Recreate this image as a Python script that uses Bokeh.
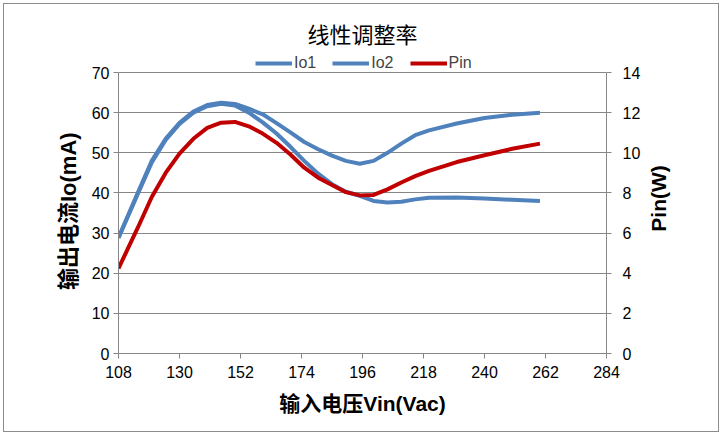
import math
from bokeh.plotting import figure
from bokeh.layouts import row
from bokeh.models import (Range1d, LinearAxis, FixedTicker, Legend, LegendItem)
from bokeh.core.properties import value
from bokeh.embed import file_html
from bokeh.resources import INLINE

vin = [108, 115, 120, 125, 130, 135, 140, 145, 150, 155, 160, 165, 170, 175,
       180, 185, 190, 195, 200, 205, 210, 215, 220, 230, 240, 250, 260]
io1 = [28.9, 40.1, 48.0, 53.5, 57.5, 60.3, 61.9, 62.5, 62.2, 61.0, 59.6, 57.4,
       55.1, 52.7, 50.9, 49.3, 48.0, 47.3, 48.0, 50.0, 52.3, 54.4, 55.6, 57.3,
       58.7, 59.5, 60.0]
io2 = [28.8, 39.8, 47.6, 53.2, 57.2, 60.0, 61.6, 62.2, 61.8, 60.0, 57.6, 54.8,
       51.5, 48.0, 44.8, 42.2, 40.3, 39.3, 38.0, 37.6, 37.8, 38.4, 38.8, 38.9,
       38.6, 38.3, 38.0]
pin = [4.24, 6.28, 7.8, 9.0, 9.96, 10.7, 11.24, 11.5, 11.54, 11.32, 10.96, 10.5,
       9.92, 9.26, 8.76, 8.4, 8.04, 7.88, 7.9, 8.18, 8.52, 8.84, 9.1, 9.54, 9.88,
       10.2, 10.46]

x_ticks = [108, 130, 152, 174, 196, 218, 240, 262, 284]
y_ticks = [0, 10, 20, 30, 40, 50, 60, 70]
y2_ticks = [0, 2, 4, 6, 8, 10, 12, 14]

title_text = "线性调整率"
x_label = "输入电压Vin(Vac)"
y_label = "输出电流Io(mA)"
y2_label = "Pin(W)"

BLUE = "#4F81BD"
RED = "#C00000"
GRAY = "#868686"
TICK_FONT = "Liberation Sans"
LABEL_FONT = "Liberation Sans, Noto Sans CJK SC"
CJK = "Noto Sans CJK SC"

H = 427

# left strip holding the left axis title, read bottom-to-top
p0 = figure(width=80, height=H, output_backend="svg", toolbar_location=None,
            x_range=Range1d(0, 80), y_range=Range1d(0, H),
            x_axis_type=None, y_axis_type=None, min_border=0)
p0.outline_line_color = None
p0.grid.visible = False
p0.text(x=[64], y=[90], text=[y_label], angle=math.pi / 2,
        text_align="left", text_baseline="middle",
        text_font=value(LABEL_FONT), text_font_style="bold",
        text_font_size="22px", text_color="black")

# main chart; frame extended above the 70 line so the legend can sit above it
p = figure(width=562, height=H, output_backend="svg", toolbar_location=None,
           title=title_text, x_range=Range1d(108, 284), y_range=Range1d(0, 75),
           min_border_left=34, min_border_right=40, min_border_top=48,
           min_border_bottom=78)
p.extra_y_ranges = {"pin": Range1d(0, 15)}

p.title.align = "center"
p.title.text_font = CJK
p.title.text_font_size = "22px"
p.title.text_font_style = "normal"
p.title.text_color = "black"
p.title.standoff = 7

p.outline_line_color = None
p.xgrid.visible = False
p.ygrid.grid_line_color = GRAY
p.ygrid.grid_line_width = 1
p.ygrid.ticker = FixedTicker(ticks=y_ticks)

for ax in [p.xaxis[0], p.yaxis[0]]:
    ax.axis_line_color = GRAY
    ax.major_tick_line_color = GRAY
    ax.minor_tick_line_color = None
    ax.major_tick_out = 5
    ax.major_tick_in = 0
    ax.major_label_text_font = TICK_FONT
    ax.major_label_text_font_size = "16px"
    ax.major_label_text_color = "black"

p.xaxis.ticker = FixedTicker(ticks=x_ticks)
p.yaxis.ticker = FixedTicker(ticks=y_ticks)
p.yaxis.bounds = (0, 70)
p.xaxis.axis_label = x_label
p.xaxis.axis_label_text_font = LABEL_FONT
p.xaxis.axis_label_text_font_style = "bold"
p.xaxis.axis_label_text_color = "black"
p.xaxis.axis_label_text_font_size = "21px"
p.xaxis.major_label_standoff = 7
p.yaxis.major_label_standoff = 4
p.xaxis.axis_label_standoff = 11

ax2 = LinearAxis(y_range_name="pin", ticker=FixedTicker(ticks=y2_ticks),
                 bounds=(0, 14))
ax2.axis_line_color = GRAY
ax2.major_tick_line_color = GRAY
ax2.minor_tick_line_color = None
ax2.major_tick_out = 5
ax2.major_tick_in = 0
ax2.major_label_text_font = TICK_FONT
ax2.major_label_text_font_size = "16px"
ax2.major_label_text_color = "black"
ax2.major_label_standoff = 11
p.add_layout(ax2, "right")

r1 = p.line(vin, io1, line_color=BLUE, line_width=4)
r2 = p.line(vin, io2, line_color=BLUE, line_width=4)
r3 = p.line(vin, pin, line_color=RED, line_width=4, y_range_name="pin")

legend = Legend(items=[LegendItem(label="Io1", renderers=[r1]),
                       LegendItem(label="Io2", renderers=[r2]),
                       LegendItem(label="Pin", renderers=[r3])],
                orientation="horizontal", location=(137, 281),
                label_text_font=TICK_FONT, label_text_font_size="16px",
                glyph_width=37, glyph_height=10, spacing=16, padding=0,
                margin=0, label_standoff=2, border_line_color=None,
                background_fill_alpha=0)
p.add_layout(legend, "center")

# right strip holding the right axis title, read bottom-to-top
p2 = figure(width=72, height=H, output_backend="svg", toolbar_location=None,
            x_range=Range1d(0, 72), y_range=Range1d(0, H),
            x_axis_type=None, y_axis_type=None, min_border=0)
p2.outline_line_color = None
p2.grid.visible = False
p2.text(x=[12], y=[220], text=[y2_label], angle=math.pi / 2,
        text_align="center", text_baseline="middle",
        text_font=value(TICK_FONT), text_font_style="bold",
        text_font_size="21px", text_color="black")

layout = row(p0, p, p2)
layout.spacing = 0
layout.styles = {"border": "1px solid #8c8c8c", "margin": "3px"}

open("out.html", "w").write(file_html(layout, INLINE))
